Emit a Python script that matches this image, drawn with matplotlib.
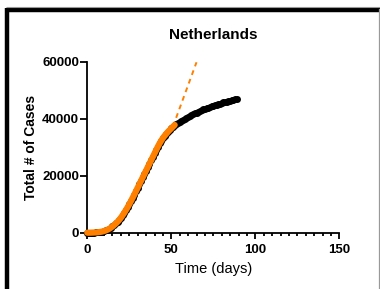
import matplotlib
matplotlib.use("Agg")
import matplotlib.pyplot as plt
from matplotlib.lines import Line2D
from matplotlib.ticker import MultipleLocator

plt.rcParams['font.family'] = ['Liberation Sans', 'DejaVu Sans']

days = list(range(0, 90))
cases = [0, 10, 20, 40, 70, 100, 150, 220, 300, 420,
         600, 800, 1050, 1350, 1750, 2200, 2700, 3250, 3850, 4500,
         5250, 6100, 7000, 7950, 8950, 10000, 11100, 12250, 13400, 14600,
         15800, 17000, 18200, 19400, 20600, 21800, 23000, 24200, 25400, 26600,
         27800, 29000, 30200, 31300, 32300, 33200, 34000, 34700, 35400, 36000,
         36600, 37200, 37800, 38250, 38650, 39000, 39350, 39700, 40000, 40300,
         40600, 40900, 41250, 41550, 41850, 42150, 42450, 42750, 43050, 43300,
         43500, 43700, 43900, 44100, 44300, 44500, 44700, 44900, 45100, 45300,
         45500, 45700, 45850, 46000, 46150, 46300, 46450, 46600, 46750, 46900]
fit_end_day = 52
proj_days = [51, 65]
proj_cases = [37300, 59800]

title = "Netherlands"
xlabel = "Time (days)"
ylabel = "Total # of Cases"
xticks = [0, 50, 100, 150]
yticks = [0, 20000, 40000, 60000]

fig = plt.figure(figsize=(3.8, 2.89), dpi=100)
ax = fig.add_axes([0.2297, 0.1948, 0.893 - 0.2297, 0.7865 - 0.1948])

ax.plot(days, cases, 'o', color='black', markersize=5, markeredgewidth=0,
        clip_on=False, zorder=3)
ax.plot(days[:fit_end_day + 1], cases[:fit_end_day + 1], '-', color='#ff8000',
        linewidth=4.5, solid_capstyle='round', clip_on=False, zorder=4)
ax.plot(proj_days, proj_cases, '--', color='#ff8000', linewidth=1.4,
        dashes=(2.5, 2.2), clip_on=False, zorder=2)

ax.set_xlim(0, 150)
ax.set_ylim(0, 60000)
ax.set_xticks(xticks)
ax.set_yticks(yticks)
ax.set_xticklabels([str(t) for t in xticks], fontsize=9.5, fontweight='bold')
ax.set_yticklabels([str(t) for t in yticks], fontsize=9.5, fontweight='bold')
ax.xaxis.set_minor_locator(MultipleLocator(5))
ax.tick_params(axis='x', which='major', length=4.5, width=1.3, pad=3.5)
ax.tick_params(axis='x', which='minor', length=2.5, width=1.3)
ax.tick_params(axis='y', which='major', length=5, width=1.3, pad=1)
for s in ['top', 'right']:
    ax.spines[s].set_visible(False)
for s in ['left', 'bottom']:
    ax.spines[s].set_linewidth(1.3)

ax.set_title(title, fontsize=11, fontweight='bold', pad=16.5)
ax.set_xlabel(xlabel, fontsize=10.5, labelpad=4.5)
ax.set_ylabel(ylabel, fontsize=10, fontweight='bold', labelpad=3)

W, H = 380, 289
# frame around the figure
fig.add_artist(Line2D([7 / W, 7 / W], [0, 1 - 8 / H], transform=fig.transFigure,
                      color='black', linewidth=3.2, solid_capstyle='butt'))
fig.add_artist(Line2D([5.5 / W, 1], [1 - 9.5 / H, 1 - 9.5 / H], transform=fig.transFigure,
                      color='black', linewidth=3.2, solid_capstyle='butt'))
fig.add_artist(Line2D([7 / W, 1], [1 - 7 / H, 1 - 7 / H], transform=fig.transFigure,
                      color='#999999', linewidth=0.8))
fig.add_artist(Line2D([378.5 / W, 378.5 / W], [0, 1 - 9 / H], transform=fig.transFigure,
                      color='#999999', linewidth=0.9))

fig.savefig("out.png", dpi=100)
